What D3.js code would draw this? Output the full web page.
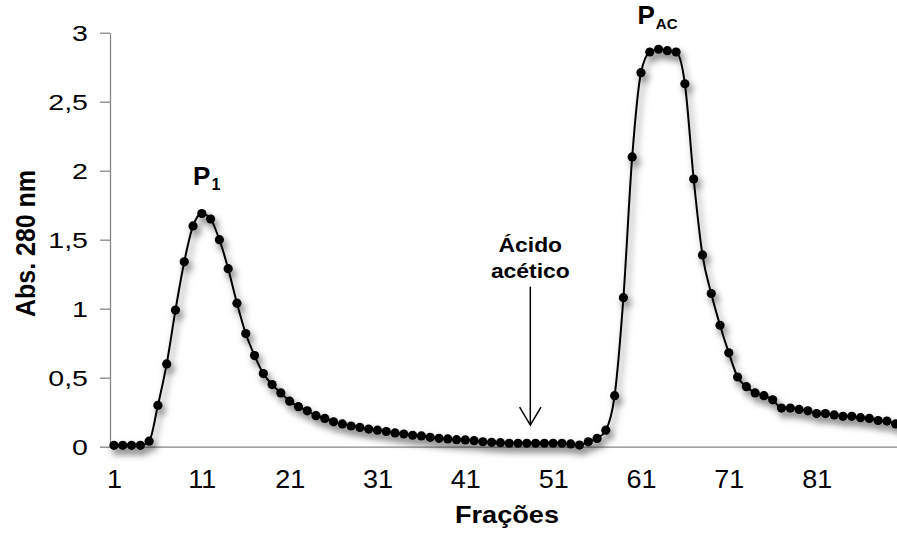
<!DOCTYPE html>
<html>
<head>
<meta charset="utf-8">
<script src="https://cdn.jsdelivr.net/npm/d3@7"></script>
<style>
    html, body { margin: 0; padding: 0; background: #fff; }
    svg { display: block; font-family: "Liberation Sans", Arial, sans-serif; }
</style>
</head>
<body>
<div id="g1"></div>
<script>
;(function () {

    // Fractions 1..90 and absorbance at 280 nm.
    var fractions = d3.range(1, 91);
    var absorbance = [
        0.01, 0.01, 0.01, 0.01, 0.04, 0.30, 0.60, 0.99, 1.34, 1.60,
        1.69, 1.65, 1.50, 1.29, 1.04, 0.82, 0.66, 0.53, 0.45, 0.39,
        0.33, 0.29, 0.26, 0.225, 0.205, 0.18, 0.165, 0.15, 0.14, 0.128,
        0.12, 0.11, 0.10, 0.092, 0.083, 0.078, 0.068, 0.061, 0.056, 0.051,
        0.049, 0.044, 0.036, 0.032, 0.029, 0.025, 0.025, 0.025, 0.025, 0.025,
        0.025, 0.025, 0.02, 0.012, 0.035, 0.06, 0.12, 0.37, 1.08, 2.10,
        2.71, 2.86, 2.88, 2.87, 2.86, 2.63, 1.94, 1.39, 1.11, 0.88,
        0.68, 0.505, 0.435, 0.39, 0.37, 0.34, 0.28, 0.28, 0.27, 0.26,
        0.24, 0.24, 0.23, 0.22, 0.22, 0.21, 0.205, 0.19, 0.186, 0.165
    ];
    var xTicks = [1, 11, 21, 31, 41, 51, 61, 71, 81];
    var yTicks = [0, 0.5, 1, 1.5, 2, 2.5, 3];

    // Annotations: peak labels and the acetic acid arrow.
    var peakLabels = [
        { main: 'P', sub: '1',  at: 10.0, v: 1.90, subSize: 16 },
        { main: 'P', sub: 'AC', at: 60.6, v: 3.06, subSize: 15 }
    ];
    var arrowAt = 48.4, arrowTop = 1.16, arrowTip = 0.157;
    var arrowText = ['Ácido', 'acético'];

    var width = 897, height = 533;
    var left = 110, top = 32.7, bottom = 446.7, right = 897;

    var data = fractions.map(function (f, i) { return { f: f, v: absorbance[i] }; });

    var x = d3.scaleLinear().domain([0.545, 90.15]).range([left, right]);
    var y = d3.scaleLinear().domain([0, 3]).range([bottom, top]);

    var svg = d3.select('#g1').append('svg')
        .attr('width', width)
        .attr('height', height);

    var defs = svg.append('defs');
    var shadow = defs.append('filter')
        .attr('id', 'shadow')
        .attr('x', '-10%').attr('y', '-10%')
        .attr('width', '130%').attr('height', '130%');
    shadow.append('feDropShadow')
        .attr('dx', 3).attr('dy', 5)
        .attr('stdDeviation', 3.5)
        .attr('flood-color', '#000')
        .attr('flood-opacity', 0.55);

    // y axis
    var yAxis = svg.append('g')
        .attr('transform', 'translate(' + left + ',0)')
        .call(d3.axisLeft(y).tickValues(yTicks).tickSize(10).tickSizeOuter(0)
            .tickFormat(function (d) { return String(d).replace('.', ','); }));
    yAxis.select('.domain').attr('stroke', '#868686').attr('stroke-width', 1.3);
    yAxis.selectAll('.tick line').attr('stroke', '#868686').attr('stroke-width', 1.3);
    yAxis.selectAll('.tick text')
        .attr('x', 0).attr('dy', null)
        .attr('font-size', 21.5)
        .attr('fill', '#000')
        .attr('text-anchor', 'end')
        .attr('transform', 'translate(-22,7.7) scale(1.33,1)');

    // x axis (no tick marks)
    var xAxis = svg.append('g')
        .attr('transform', 'translate(0,' + bottom + ')')
        .call(d3.axisBottom(x).tickValues(xTicks).tickSize(0).tickSizeOuter(0));
    xAxis.select('.domain').attr('stroke', '#868686').attr('stroke-width', 1.3);
    xAxis.selectAll('.tick text')
        .attr('y', 0).attr('dy', null)
        .attr('font-size', 25)
        .attr('fill', '#000')
        .attr('transform', 'translate(0,41.5) scale(1.08,1)');

    // axis titles
    svg.append('text')
        .attr('transform', 'translate(507,523) scale(1.18,1)')
        .attr('text-anchor', 'middle')
        .attr('font-size', 23)
        .attr('font-weight', 'bold')
        .text('Frações');

    svg.append('text')
        .attr('transform', 'translate(35,243.5) rotate(-90) scale(1.04,1.18)')
        .attr('text-anchor', 'middle')
        .attr('font-size', 24)
        .attr('font-weight', 'bold')
        .text('Abs. 280 nm');

    // series: line + markers with a soft shadow
    var series = svg.append('g').attr('filter', 'url(#shadow)');

    var line = d3.line()
        .x(function (d) { return x(d.f); })
        .y(function (d) { return y(d.v); })
        .curve(d3.curveMonotoneX);

    series.append('path')
        .datum(data)
        .attr('d', line)
        .attr('fill', 'none')
        .attr('stroke', '#000')
        .attr('stroke-width', 2);

    series.selectAll('circle')
        .data(data)
        .enter()
        .append('circle')
        .attr('cx', function (d) { return x(d.f); })
        .attr('cy', function (d) { return y(d.v); })
        .attr('r', 4.6)
        .attr('fill', '#000');

    // peak labels
    peakLabels.forEach(function (p) {
        var t = svg.append('text')
            .attr('x', x(p.at))
            .attr('y', y(p.v))
            .attr('font-size', 26)
            .attr('font-weight', 'bold')
            .text(p.main);
        t.append('tspan')
            .attr('dx', 1)
            .attr('dy', 5)
            .attr('font-size', p.subSize)
            .text(p.sub);
    });

    // acetic acid annotation
    var ax = x(arrowAt);
    arrowText.forEach(function (s, i) {
        svg.append('text')
            .attr('transform', 'translate(' + ax + ',' + (251.7 + i * 26.3) + ') scale(1.09,1)')
            .attr('text-anchor', 'middle')
            .attr('font-size', 21)
            .attr('font-weight', 'bold')
            .text(s);
    });

    var arrow = svg.append('g')
        .attr('stroke', '#000')
        .attr('stroke-width', 1.5)
        .attr('fill', 'none');
    arrow.append('line')
        .attr('x1', ax).attr('x2', ax)
        .attr('y1', y(arrowTop)).attr('y2', y(arrowTip));
    arrow.append('path')
        .attr('d', 'M' + (ax - 10.7) + ',' + (y(arrowTip) - 18) +
                   'L' + ax + ',' + y(arrowTip) +
                   'L' + (ax + 10.7) + ',' + (y(arrowTip) - 18));

})();
</script>
</body>
</html>
